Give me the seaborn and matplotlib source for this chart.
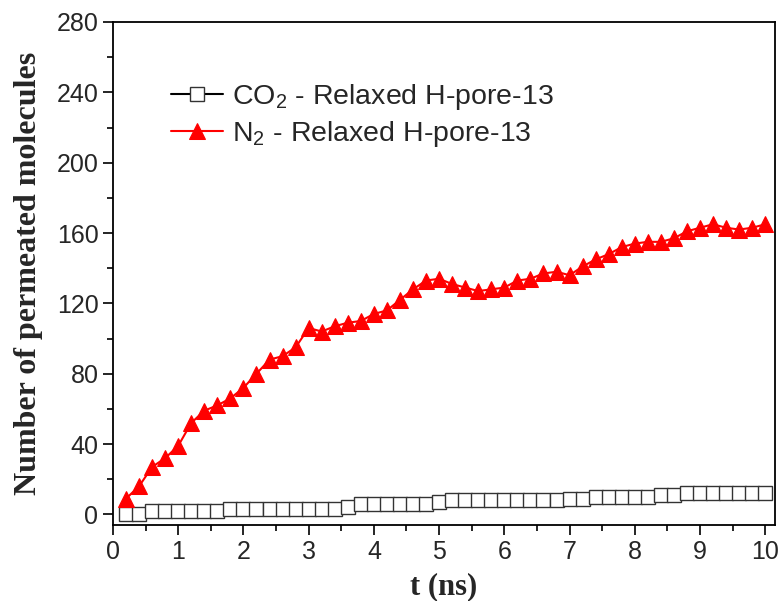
import numpy as np
import pandas as pd
import matplotlib
matplotlib.use('Agg')
import matplotlib.pyplot as plt
import seaborn as sns

# data
t = np.round(np.arange(1, 51) * 0.2, 1)
co2 = [0, 0, 2, 2, 2, 2, 2, 2, 3, 3,
       3, 3, 3, 3, 3, 3, 3, 4, 6, 6,
       6, 6, 6, 6, 7, 8, 8, 8, 8, 8,
       8, 8, 8, 8, 9, 9, 10, 10, 10, 10,
       10, 11, 11, 12, 12, 12, 12, 12, 12, 12]
n2 = [9, 16, 27, 32, 39, 52, 59, 62, 66, 72,
      80, 88, 90, 95, 106, 104, 107, 109, 110, 114,
      116, 122, 128, 133, 134, 131, 129, 127, 128, 129,
      133, 134, 137, 138, 136, 141, 145, 148, 152, 154,
      155, 155, 157, 161, 163, 165, 163, 162, 163, 165]

df = pd.DataFrame({'t': t, 'co2': co2, 'n2': n2})

sns.set_style('ticks')
plt.rcParams['font.family'] = ['Liberation Sans', 'DejaVu Sans']
plt.rcParams['mathtext.default'] = 'regular'

fig = plt.figure(figsize=(7.83, 6.01), dpi=100)
ax = fig.add_axes([0.1443, 0.1265, 0.8455, 0.8369])

sns.lineplot(data=df, x='t', y='co2', ax=ax, color='black', linewidth=1.5,
             marker='s', markersize=9.5, markerfacecolor='white',
             markeredgecolor='#333333', markeredgewidth=1,
             label='CO$_2$ - Relaxed H-pore-13')
sns.lineplot(data=df, x='t', y='n2', ax=ax, color='#ff0000', linewidth=1.5,
             marker='^', markersize=11.5, markeredgecolor='#ff0000',
             label='N$_2$ - Relaxed H-pore-13')

ax.set_xlim(0, 10.15)
ax.set_ylim(-6, 280)
ax.set_xticks(range(0, 11))
ax.set_yticks(range(0, 281, 40))
ax.set_xticks(np.arange(0.5, 10.1, 1), minor=True)
ax.set_yticks(range(20, 281, 40), minor=True)
ax.tick_params(axis='both', which='major', labelsize=18, length=7, width=1.2,
               direction='out', color='black')
ax.tick_params(axis='both', which='minor', length=4, width=1.2, direction='out',
               color='black')
for s in ax.spines.values():
    s.set_linewidth(1.3)
    s.set_color('black')

ax.set_xlabel('t (ns)', fontsize=22, fontweight='bold', family='Liberation Serif',
              labelpad=6)
ax.set_ylabel('Number of permeated molecules', fontsize=23, fontweight='bold',
              family='Liberation Serif', labelpad=10)

leg = ax.legend(loc='upper left', bbox_to_anchor=(0.07, 0.904), frameon=False,
                fontsize=20.5, handlelength=1.85, handletextpad=0.3,
                labelspacing=0.25, borderaxespad=0)

plt.savefig('out.png', dpi=100)
